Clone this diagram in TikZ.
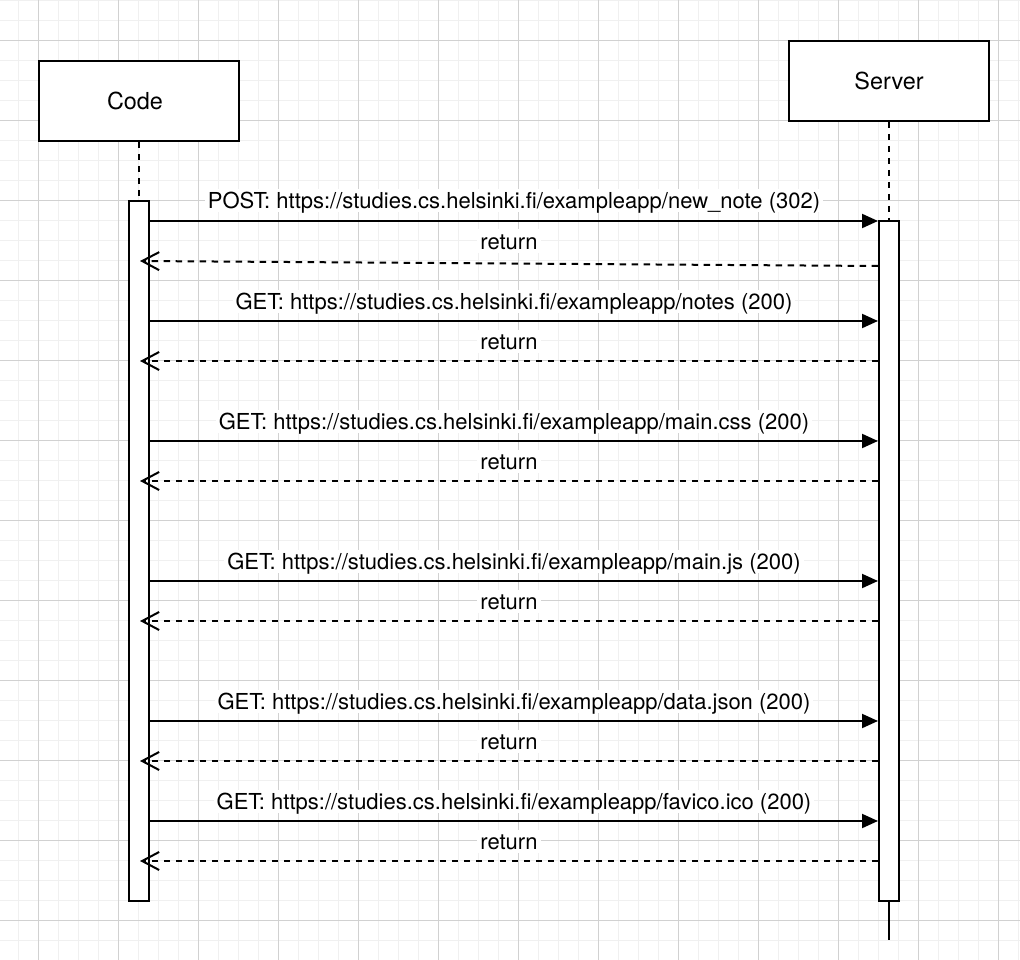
\documentclass[tikz,border=0pt]{standalone}
\usepackage{fontspec}
\setmainfont{TeX Gyre Heros}
\usetikzlibrary{arrows.meta}
\newcommand{\dfont}{\fontsize{22}{26}\selectfont}
\newcommand{\afont}{\fontsize{23.4}{28}\selectfont}
\begin{document}
\begin{tikzpicture}[x=1pt,y=-1pt,
  actorbox/.style={draw,line width=2pt,fill=white,minimum width=200pt,minimum height=80pt,inner sep=0pt,font=\afont},
  actbar/.style={draw,line width=2pt,fill=white,minimum width=20pt,inner sep=0pt},
  msg/.style={line width=2pt,-{Triangle[length=16pt,width=14pt]}},
  ret/.style={line width=2pt,dash pattern=on 6.5pt off 5.5pt,-{Straight Barb[length=17pt,width=18pt]}},
  life/.style={line width=2pt,dash pattern=on 6.5pt off 5.5pt},
  lbl/.style={anchor=base,fill=white,inner xsep=3pt,inner ysep=0.5pt,text height=19pt,text depth=3pt,font=\dfont},
  minorgrid/.style={draw=black!6,line width=1pt},
  majorgrid/.style={draw=black!18,line width=1pt}]
\useasboundingbox (0,0) rectangle (1020,960);
\fill[white] (0,0) rectangle (1020,960);
% grid
\begin{scope}
\clip (0,0) rectangle (1020,960);
\foreach \g in {-1.5,18.5,...,1019}{\draw[minorgrid] (\g,0) -- (\g,960);}
\foreach \g in {0.5,20.5,...,960}{\draw[minorgrid] (0,\g) -- (1020,\g);}
\foreach \g in {38.5,118.5,...,1019}{\draw[majorgrid] (\g,0) -- (\g,960);}
\foreach \g in {40.5,120.5,...,960}{\draw[majorgrid] (0,\g) -- (1020,\g);}
\end{scope}
% actors
\node[actorbox] (code) at (139,101) {Code\hspace*{8pt}};
\node[actorbox] (server) at (889,81) {Server};
% activation bars
\node[actbar,minimum height=700pt] (cbar) at (139,551) {};
\node[actbar,minimum height=680pt] (sbar) at (889,561) {};
\coordinate (send) at (889,940);
\draw[life] (code.south) -- (cbar.north);
\draw[life] (server.south) -- (sbar.north);
\draw[line width=2pt] (sbar.south) -- (send);
% messages
\foreach \y/\t/\n in {
  221/{POST: https://studies.cs.helsinki.fi/exampleapp/new\_note (302)}/1,
  321/{GET: https://studies.cs.helsinki.fi/exampleapp/notes (200)}/2,
  441/{GET: https://studies.cs.helsinki.fi/exampleapp/main.css (200)}/3,
  581/{GET: https://studies.cs.helsinki.fi/exampleapp/main.js (200)}/4,
  721/{GET: https://studies.cs.helsinki.fi/exampleapp/data.json (200)}/5,
  821/{GET: https://studies.cs.helsinki.fi/exampleapp/favico.ico (200)}/6}{
  \draw[msg] (cbar.east |- {(0,\y)}) -- (sbar.west |- {(0,\y)});
  \node[lbl] (req\n) at (514,\y-12) {\t};
}
\draw[ret] (sbar.west |- {(0,266)}) -- ([xshift=1pt]cbar.center |- {(0,261)});
\node[lbl] (ret1) at (509,249) {return};
\foreach \r/\n in {361/2,481/3,621/4,761/5,861/6}{
  \draw[ret] (sbar.west |- {(0,\r)}) -- ([xshift=1pt]cbar.center |- {(0,\r)});
  \node[lbl] (ret\n) at (509,\r-12) {return};
}
\end{tikzpicture}
\end{document}
